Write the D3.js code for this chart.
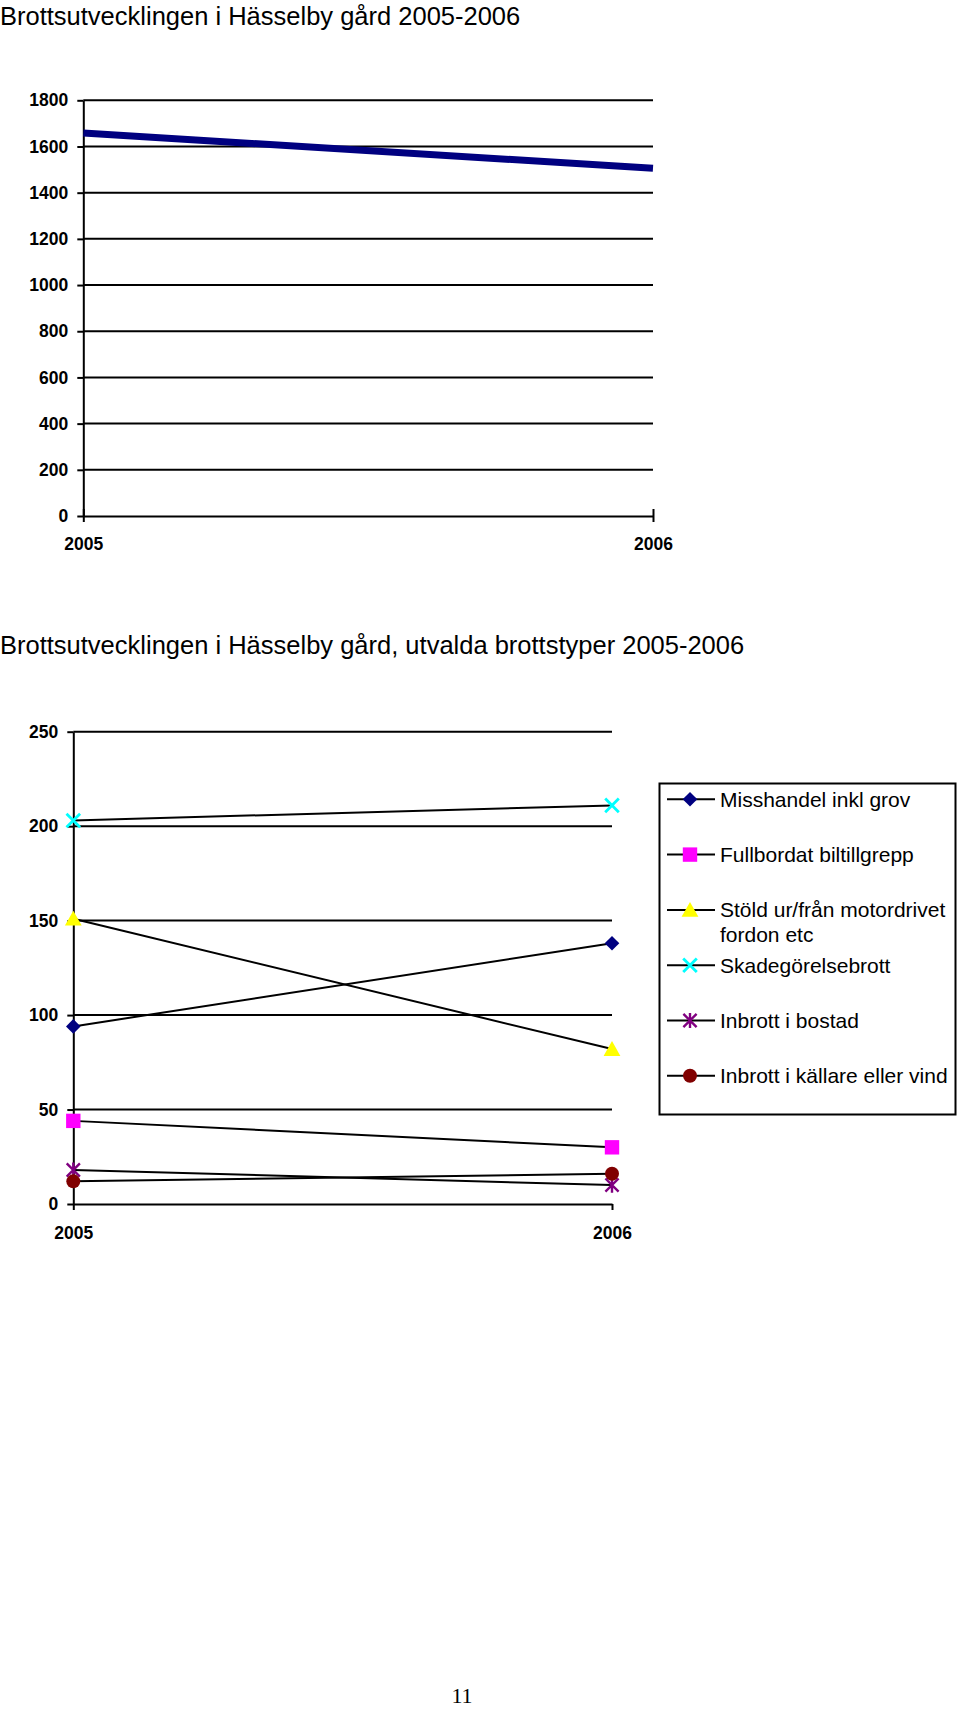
<!DOCTYPE html>
<html>
<head>
<meta charset="utf-8">
<script src="https://cdn.jsdelivr.net/npm/d3@7"></script>
<style>
  html, body { margin: 0; padding: 0; background: #fff; }
  svg { display: block; }
</style>
</head>
<body>
<script>
// ---------------- DATA ----------------
const years = ["2005", "2006"];

// Chart 1: total crimes
const totalTitle = "Brottsutvecklingen i Hässelby gård 2005-2006";
const totalValues = [1658, 1506];
const totalTicks = [0, 200, 400, 600, 800, 1000, 1200, 1400, 1600, 1800];

// Chart 2: selected crime types
const detailTitle = "Brottsutvecklingen i Hässelby gård, utvalda brottstyper 2005-2006";
const detailTicks = [0, 50, 100, 150, 200, 250];
const seriesNames = [
  "Misshandel inkl grov",
  "Fullbordat biltillgrepp",
  "Stöld ur/från motordrivet fordon etc",
  "Skadegörelsebrott",
  "Inbrott i bostad",
  "Inbrott i källare eller vind"
];
const misshandel = [94, 138];
const fullbordat = [44, 30];
const stold = [151, 82];
const skadegorelse = [203, 211];
const inbrottBostad = [18, 10];
const inbrottKallare = [12, 16];
const seriesValues = [misshandel, fullbordat, stold, skadegorelse, inbrottBostad, inbrottKallare];
const seriesColors = ["#000080", "#FF00FF", "#FFFF00", "#00FFFF", "#800080", "#800000"];
const seriesMarkers = ["diamond", "square", "triangle", "x", "asterisk", "circle"];

const pageNumber = "11";

// ---------------- SETUP ----------------
const W = 960, H = 1709;
const FONT = "'Liberation Sans', Arial, Helvetica, sans-serif";

const svg = d3.select("body").append("svg")
  .attr("width", W).attr("height", H)
  .attr("viewBox", `0 0 ${W} ${H}`);
svg.append("rect").attr("width", W).attr("height", H).attr("fill", "#fff");

function styleAxis(g) {
  g.attr("font-family", FONT).attr("font-size", 17.5).attr("font-weight", "bold");
  g.selectAll("path.domain").attr("stroke", "#000").attr("stroke-width", 2);
  g.selectAll(".tick line").attr("stroke", "#000").attr("stroke-width", 2);
  g.selectAll(".tick text").attr("fill", "#000");
}

// ---------------- CHART 1 ----------------
(function () {
  const left = 83.3, right = 653, top = 100.3, bottom = 516;
  const x = d3.scalePoint().domain(years).range([left, right]).padding(0);
  const y = d3.scaleLinear().domain([0, 1800]).range([bottom, top]);

  svg.append("text")
    .attr("x", 0).attr("y", 25)
    .attr("font-family", FONT).attr("font-size", 25.5)
    .attr("fill", "#000")
    .text(totalTitle);

  // gridlines
  svg.append("g").selectAll("line")
    .data(totalTicks.filter(d => d > 0))
    .join("line")
    .attr("x1", left).attr("x2", right)
    .attr("y1", d => y(d)).attr("y2", d => y(d))
    .attr("stroke", "#000").attr("stroke-width", 2);

  const ya = svg.append("g").attr("transform", `translate(${left},0)`)
    .call(d3.axisLeft(y).tickValues(totalTicks).tickSize(6).tickSizeOuter(0).tickPadding(9).tickFormat(d3.format("d")));
  styleAxis(ya);

  const xa = svg.append("g").attr("transform", `translate(0,${bottom})`)
    .call(d3.axisBottom(x).tickSize(6).tickSizeOuter(0).tickPadding(16));
  styleAxis(xa);
  xa.selectAll(".tick line").attr("y1", -7);

  const line = d3.line().x((d, i) => x(years[i])).y(d => y(d));
  svg.append("path")
    .datum(totalValues)
    .attr("d", line)
    .attr("fill", "none")
    .attr("stroke", "#000080")
    .attr("stroke-width", 7);
})();

// ---------------- CHART 2 ----------------
const markerTypes = {
  diamond: { draw(ctx, s) { const r = s; ctx.moveTo(0, -r); ctx.lineTo(r, 0); ctx.lineTo(0, r); ctx.lineTo(-r, 0); ctx.closePath(); } },
  square: { draw(ctx, s) { const r = s; ctx.moveTo(-r, -r); ctx.lineTo(r, -r); ctx.lineTo(r, r); ctx.lineTo(-r, r); ctx.closePath(); } },
  triangle: { draw(ctx, s) { const r = s; ctx.moveTo(0, -r); ctx.lineTo(r * 1.05, r * 0.85); ctx.lineTo(-r * 1.05, r * 0.85); ctx.closePath(); } },
  circle: { draw(ctx, s) { ctx.moveTo(s, 0); ctx.arc(0, 0, s, 0, 2 * Math.PI); } },
  x: { draw(ctx, s) { ctx.moveTo(-s, -s); ctx.lineTo(s, s); ctx.moveTo(-s, s); ctx.lineTo(s, -s); } },
  asterisk: { draw(ctx, s) { ctx.moveTo(-s, -s); ctx.lineTo(s, s); ctx.moveTo(-s, s); ctx.lineTo(s, -s); ctx.moveTo(0, -s * 1.15); ctx.lineTo(0, s * 1.15); } }
};
const markerSize = { diamond: 7.3, square: 7.2, triangle: 8, circle: 7, x: 6.8, asterisk: 6.6 };

function drawMarker(sel, type, color) {
  const p = sel.append("path").attr("d", d3.symbol().type(markerTypes[type]).size(markerSize[type])());
  if (type === "x" || type === "asterisk") {
    p.attr("fill", "none").attr("stroke", color).attr("stroke-width", type === "x" ? 2.8 : 2.4);
  } else {
    p.attr("fill", color).attr("stroke", "none");
  }
  return p;
}

(function () {
  const left = 73.3, right = 612, top = 731.7, bottom = 1204;
  const x = d3.scalePoint().domain(years).range([left, right]).padding(0);
  const y = d3.scaleLinear().domain([0, 250]).range([bottom, top]);

  svg.append("text")
    .attr("x", 0).attr("y", 654)
    .attr("font-family", FONT).attr("font-size", 25.5)
    .attr("fill", "#000")
    .text(detailTitle);

  svg.append("g").selectAll("line")
    .data(detailTicks.filter(d => d > 0))
    .join("line")
    .attr("x1", left).attr("x2", right)
    .attr("y1", d => y(d)).attr("y2", d => y(d))
    .attr("stroke", "#000").attr("stroke-width", 2);

  const ya = svg.append("g").attr("transform", `translate(${left},0)`)
    .call(d3.axisLeft(y).tickValues(detailTicks).tickSize(6).tickSizeOuter(0).tickPadding(9).tickFormat(d3.format("d")));
  styleAxis(ya);

  const xa = svg.append("g").attr("transform", `translate(0,${bottom})`)
    .call(d3.axisBottom(x).tickSize(6).tickSizeOuter(0).tickPadding(17));
  styleAxis(xa);

  const line = d3.line().x((d, i) => x(years[i])).y(d => y(d));
  const series = seriesNames.map((name, i) => ({ name, values: seriesValues[i], color: seriesColors[i], marker: seriesMarkers[i] }));

  svg.append("g").selectAll("path")
    .data(series)
    .join("path")
    .attr("d", d => line(d.values))
    .attr("fill", "none")
    .attr("stroke", "#000")
    .attr("stroke-width", 2);

  series.forEach(s => {
    s.values.forEach((v, i) => {
      const g = svg.append("g").attr("transform", `translate(${x(years[i])},${y(v)})`);
      drawMarker(g, s.marker, s.color);
    });
  });

  // Legend
  const lgX = 659.5, lgY = 783.5, lgW = 296, lgH = 331;
  svg.append("rect")
    .attr("x", lgX).attr("y", lgY).attr("width", lgW).attr("height", lgH)
    .attr("fill", "#fff").attr("stroke", "#000").attr("stroke-width", 2);

  const rowY = d3.scaleLinear().domain([0, 5]).range([799.3, 1075.8]);
  series.forEach((s, i) => {
    const cy = rowY(i);
    const g = svg.append("g");
    g.append("line").attr("x1", 667).attr("x2", 715).attr("y1", cy).attr("y2", cy)
      .attr("stroke", "#000").attr("stroke-width", 2);
    const mg = g.append("g").attr("transform", `translate(690,${cy})`);
    drawMarker(mg, s.marker, s.color);

    const t = g.append("text")
      .attr("x", 720).attr("y", cy + 7.5)
      .attr("font-family", FONT).attr("font-size", 21)
      .attr("fill", "#000");
    // simple word wrap to the legend width
    const words = s.name.split(" ");
    let lineWords = [];
    let tspan = t.append("tspan").attr("x", 720).attr("dy", 0);
    const maxW = 232;
    words.forEach(w => {
      lineWords.push(w);
      tspan.text(lineWords.join(" "));
      if (tspan.node().getComputedTextLength() > maxW && lineWords.length > 1) {
        lineWords.pop();
        tspan.text(lineWords.join(" "));
        lineWords = [w];
        tspan = t.append("tspan").attr("x", 720).attr("dy", 25).text(w);
      }
    });
  });
})();

// Page number
svg.append("text")
  .attr("x", 462).attr("y", 1703)
  .attr("text-anchor", "middle")
  .attr("font-family", "'Liberation Serif', 'Times New Roman', Times, serif")
  .attr("font-size", 22)
  .attr("fill", "#000")
  .text(pageNumber);
</script>
</body>
</html>
